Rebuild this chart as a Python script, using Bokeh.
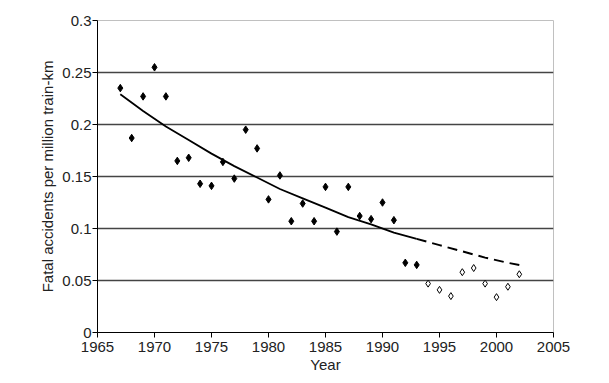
from bokeh.plotting import figure
from bokeh.embed import file_html
from bokeh.resources import INLINE
from bokeh.models import FixedTicker, Range1d

# Data
years_filled = [1967, 1968, 1969, 1970, 1971, 1972, 1973, 1974, 1975, 1976, 1977, 1978, 1979,
                1980, 1981, 1982, 1983, 1984, 1985, 1986, 1987, 1988, 1989, 1990, 1991, 1992, 1993]
rate_filled = [0.235, 0.187, 0.227, 0.255, 0.227, 0.165, 0.168, 0.143, 0.141, 0.164, 0.148, 0.195, 0.177,
               0.128, 0.151, 0.107, 0.124, 0.107, 0.140, 0.097, 0.140, 0.112, 0.109, 0.125, 0.108, 0.067, 0.065]
years_open = [1994, 1995, 1996, 1997, 1998, 1999, 2000, 2001, 2002]
rate_open = [0.047, 0.041, 0.035, 0.058, 0.062, 0.047, 0.034, 0.044, 0.056]

trend_years = [1967, 1969, 1971, 1973, 1975, 1977, 1979, 1981, 1983, 1985, 1987, 1989, 1991, 1993]
trend_vals = [0.229, 0.213, 0.198, 0.185, 0.172, 0.160, 0.149, 0.138, 0.129, 0.120, 0.111, 0.104, 0.096, 0.090]
proj_years = [1993, 1995, 1997, 1999, 2001, 2002]
proj_vals = [0.090, 0.084, 0.078, 0.072, 0.067, 0.065]

x_ticks = [1965, 1970, 1975, 1980, 1985, 1990, 1995, 2000, 2005]
y_ticks = [0, 0.05, 0.1, 0.15, 0.2, 0.25, 0.3]
y_grid = [0.05, 0.1, 0.15, 0.2, 0.25]

p = figure(width=593, height=375, output_backend="svg", toolbar_location=None,
           x_range=Range1d(1965, 2005), y_range=Range1d(0, 0.3),
           min_border_left=97, min_border_right=40, min_border_top=20, min_border_bottom=43)

p.outline_line_color = "#c0c0c0"
p.outline_line_width = 1

font = "Liberation Sans"
for ax in (p.xaxis[0], p.yaxis[0]):
    ax.axis_line_color = "black"
    ax.major_tick_line_color = "black"
    ax.minor_tick_line_color = None
    ax.major_tick_out = 5
    ax.major_tick_in = 0
    ax.major_label_text_font = font
    ax.major_label_text_font_size = "15px"
    ax.major_label_text_color = "#222222"
    ax.axis_label_text_font = font
    ax.axis_label_text_font_size = "15px"
    ax.axis_label_text_font_style = "normal"
    ax.axis_label_text_color = "#222222"

p.xaxis.ticker = FixedTicker(ticks=x_ticks)
p.yaxis.ticker = FixedTicker(ticks=y_ticks)
p.yaxis.major_label_overrides = {0: "0", 0.05: "0.05", 0.1: "0.1", 0.15: "0.15", 0.2: "0.2", 0.25: "0.25", 0.3: "0.3"}
p.xaxis.axis_label = "Year"
p.yaxis.axis_label = "Fatal accidents per million train-km"
p.xaxis.major_label_standoff = 4
p.xaxis.axis_label_standoff = 1
p.yaxis.major_label_standoff = 1
p.yaxis.axis_label_standoff = 3

p.xgrid.grid_line_color = None
p.ygrid.ticker = FixedTicker(ticks=y_grid)
p.ygrid.grid_line_color = "#444444"
p.ygrid.grid_line_width = 1.3

p.line(trend_years, trend_vals, line_color="black", line_width=1.8)
p.line(proj_years, proj_vals, line_color="black", line_width=2, line_dash="10 6")

p.scatter(years_filled, rate_filled, marker="diamond", size=7.5, fill_color="black", line_color="black")
p.scatter(years_open, rate_open, marker="diamond", size=7, fill_color="white", line_color="black", line_width=1)

open("out.html", "w").write(file_html(p, INLINE))
